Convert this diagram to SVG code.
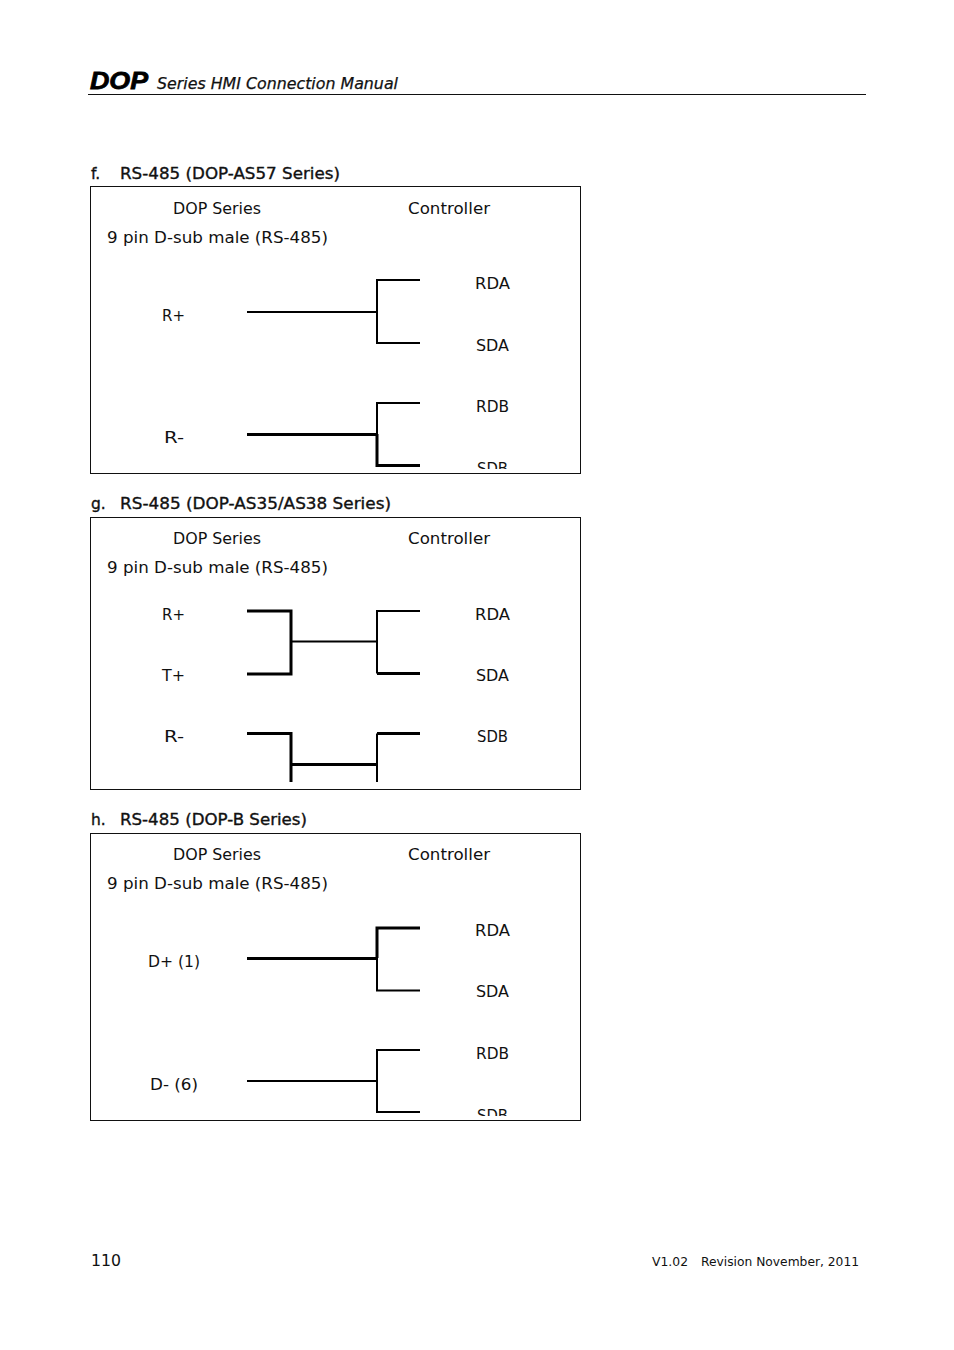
<svg xmlns="http://www.w3.org/2000/svg" width="954" height="1350" viewBox="0 0 954 1350">
<style>
text{font-family:"DejaVu Sans","Liberation Sans",sans-serif;font-size:15.500px;fill:#111;lengthAdjust:spacingAndGlyphs}
.m{text-anchor:middle}
.b{stroke:#111;stroke-width:.35px}
.box{fill:none;stroke:#111;stroke-width:1}
.t{fill:none;stroke:#000;stroke-width:2}
.k{fill:none;stroke:#000;stroke-width:3}
.h{font-size:15.500px;font-style:italic;stroke:#111;stroke-width:.25px}
.s{font-size:12.500px}
</style>
<defs>
<clipPath id="c1"><rect x="91" y="187" width="489" height="282"/></clipPath>
<clipPath id="c3"><rect x="91" y="834" width="489" height="282"/></clipPath>
</defs>
<rect width="954" height="1350" fill="#fff"/>
<g id="header">
<text x="90" y="89" style="font-family:'Liberation Sans',sans-serif;font-size:24px;font-weight:bold;font-style:italic;fill:#000;stroke:#000;stroke-width:.8px" textLength="58" lengthAdjust="spacingAndGlyphs">DOP</text>
<text class="h" x="157" y="89" textLength="241" lengthAdjust="spacingAndGlyphs">Series HMI Connection Manual</text>
<rect x="88" y="94" width="778" height="1" fill="#111"/>
</g>
<g id="section-f">
<text class="b" x="91" y="179">f.</text>
<text class="b" x="120" y="179" textLength="220" lengthAdjust="spacingAndGlyphs">RS-485 (DOP-AS57 Series)</text>
<rect class="box" x="90.500" y="186.500" width="490" height="287"/>
<text x="173" y="214" textLength="88" lengthAdjust="spacingAndGlyphs">DOP Series</text>
<text x="408" y="214" textLength="82" lengthAdjust="spacingAndGlyphs">Controller</text>
<text x="107" y="243" textLength="221" lengthAdjust="spacingAndGlyphs">9 pin D-sub male (RS-485)</text>
<text x="162" y="321" textLength="23" lengthAdjust="spacingAndGlyphs">R+</text>
<text x="164" y="443" textLength="20" lengthAdjust="spacingAndGlyphs">R-</text>
<text x="475" y="289" textLength="35" lengthAdjust="spacingAndGlyphs">RDA</text>
<text x="476" y="351" textLength="33" lengthAdjust="spacingAndGlyphs">SDA</text>
<text x="476" y="412" textLength="33" lengthAdjust="spacingAndGlyphs">RDB</text>
<text x="477" y="474" textLength="31" lengthAdjust="spacingAndGlyphs" clip-path="url(#c1)">SDB</text>
</g>
<g id="section-g">
<text class="b" x="91" y="509">g.</text>
<text class="b" x="120" y="509" textLength="271" lengthAdjust="spacingAndGlyphs">RS-485 (DOP-AS35/AS38 Series)</text>
<rect class="box" x="90.500" y="517.500" width="490" height="272"/>
<text x="173" y="544" textLength="88" lengthAdjust="spacingAndGlyphs">DOP Series</text>
<text x="408" y="544" textLength="82" lengthAdjust="spacingAndGlyphs">Controller</text>
<text x="107" y="573" textLength="221" lengthAdjust="spacingAndGlyphs">9 pin D-sub male (RS-485)</text>
<text x="162" y="620" textLength="23" lengthAdjust="spacingAndGlyphs">R+</text>
<text x="162" y="681" textLength="23" lengthAdjust="spacingAndGlyphs">T+</text>
<text x="164" y="742" textLength="20" lengthAdjust="spacingAndGlyphs">R-</text>
<text x="475" y="620" textLength="35" lengthAdjust="spacingAndGlyphs">RDA</text>
<text x="476" y="681" textLength="33" lengthAdjust="spacingAndGlyphs">SDA</text>
<text x="477" y="742" textLength="31" lengthAdjust="spacingAndGlyphs">SDB</text>
</g>
<g id="section-h">
<text class="b" x="91" y="825">h.</text>
<text class="b" x="120" y="825" textLength="187" lengthAdjust="spacingAndGlyphs">RS-485 (DOP-B Series)</text>
<rect class="box" x="90.500" y="833.500" width="490" height="287"/>
<text x="173" y="860" textLength="88" lengthAdjust="spacingAndGlyphs">DOP Series</text>
<text x="408" y="860" textLength="82" lengthAdjust="spacingAndGlyphs">Controller</text>
<text x="107" y="889" textLength="221" lengthAdjust="spacingAndGlyphs">9 pin D-sub male (RS-485)</text>
<text x="148" y="967" textLength="52" lengthAdjust="spacingAndGlyphs">D+ (1)</text>
<text x="150" y="1090" textLength="48" lengthAdjust="spacingAndGlyphs">D- (6)</text>
<text x="475" y="936" textLength="35" lengthAdjust="spacingAndGlyphs">RDA</text>
<text x="476" y="997" textLength="33" lengthAdjust="spacingAndGlyphs">SDA</text>
<text x="476" y="1059" textLength="33" lengthAdjust="spacingAndGlyphs">RDB</text>
<text x="477" y="1121" textLength="31" lengthAdjust="spacingAndGlyphs" clip-path="url(#c3)">SDB</text>
</g>
<g id="connectors">
<path class="t" d="M247 312H377M420 280H377V343H420"/>
<path class="k" d="M247 434.500H377"/><path class="t" d="M420 403H377V434"/><path class="k" d="M377 434V465.500H420"/>
<path class="t" d="M291 641.500H377"/><path class="k" d="M247 611H291V674H247"/><path class="t" d="M420 611H377V673.500"/><path class="k" d="M377 673.500H420"/>
<path class="k" d="M247 733.500H291V782M291 764.500H377"/><path class="t" d="M377 782V733.500"/><path class="k" d="M377 733.500H420"/>
<path class="k" d="M247 958.500H377"/><path class="t" d="M377 958V990.500H420"/><path class="k" d="M420 928H377V958"/>
<path class="t" d="M247 1081H377M420 1050H377V1112H420"/>
</g>
<g id="footer">
<text x="91" y="1266" textLength="30" lengthAdjust="spacingAndGlyphs">110</text>
<text class="s" x="652" y="1266" textLength="36" lengthAdjust="spacingAndGlyphs">V1.02</text>
<text class="s" x="701" y="1266" textLength="158" lengthAdjust="spacingAndGlyphs">Revision November, 2011</text>
</g>
</svg>
